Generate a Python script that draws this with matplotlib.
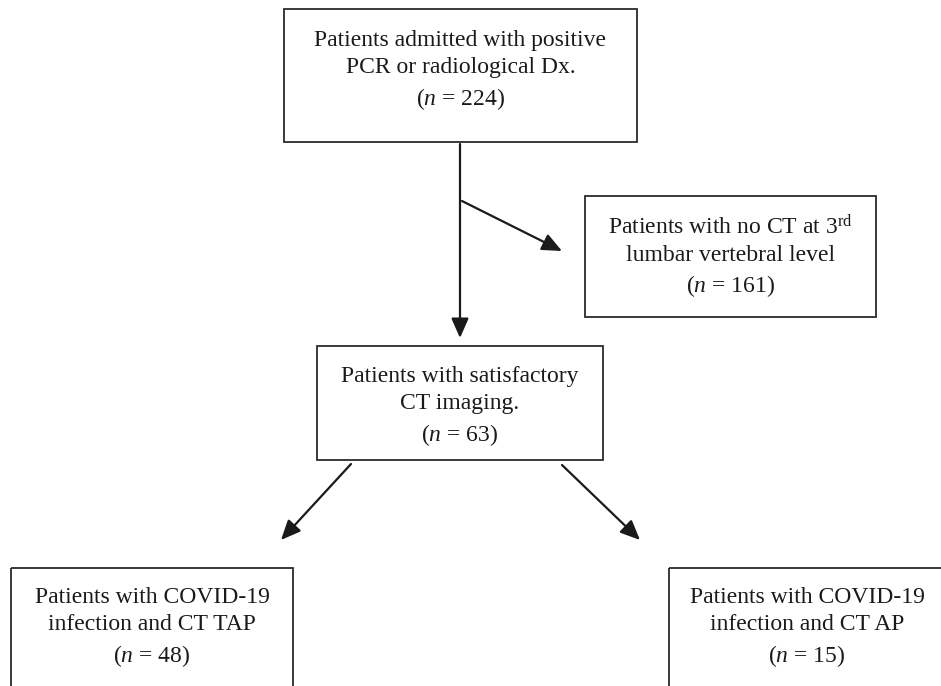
import matplotlib
matplotlib.use("Agg")
import matplotlib.pyplot as plt
from matplotlib.patches import Rectangle

# Flowchart data
labels = [
    "Patients admitted with positive\nPCR or radiological Dx.",
    "Patients with no CT at 3$^{\\mathrm{rd}}$\nlumbar vertebral level",
    "Patients with satisfactory\nCT imaging.",
    "Patients with COVID-19\ninfection and CT TAP",
    "Patients with COVID-19\ninfection and CT AP",
]
counts = [224, 161, 63, 48, 15]

# Layout in pixels: (left, top, right, bottom), text centre y
boxes = [
    (284, 9, 637, 142, 71),
    (585, 196, 876, 317, 257),
    (317, 346, 603, 460, 407),
    (11, 568, 293, 720, 628),
    (669, 568, 945, 720, 628),
]

# Arrows: (start, end)
arrows = [
    ((460, 144), (460, 338)),
    ((462, 201), (562, 251)),
    ((351, 464), (281, 540)),
    ((562, 465), (640, 540)),
]

plt.rcParams['font.family'] = ['Liberation Serif', 'DejaVu Serif']
plt.rcParams['mathtext.fontset'] = 'custom'
plt.rcParams['mathtext.rm'] = 'Liberation Serif'
plt.rcParams['mathtext.it'] = 'Liberation Serif:italic'

fig = plt.figure(figsize=(9.41, 6.86), dpi=100)
ax = fig.add_axes([0, 0, 1, 1])
ax.set_xlim(0, 941)
ax.set_ylim(686, 0)
ax.axis("off")

edge = "#2b2b2b"
ink = "#1a1a1a"

for (l, t, r, b, ty), lab, n in zip(boxes, labels, counts):
    ax.add_patch(Rectangle((l, t), r - l, b - t, fill=False,
                           edgecolor=edge, linewidth=1.3, clip_on=False))
    txt = lab + "\n($\\it{n}$ = %d)" % n
    ax.text((l + r) / 2, ty, txt, ha="center", va="center",
            fontsize=17, color=ink, linespacing=1.38)

for (x0, y0), (x1, y1) in arrows:
    ax.annotate("", xy=(x1, y1), xytext=(x0, y0),
                arrowprops=dict(arrowstyle="-|>,head_length=0.5,head_width=0.22",
                                color=ink, lw=1.6, mutation_scale=24,
                                shrinkA=0, shrinkB=0))

fig.savefig("out.png", dpi=100, facecolor="white")
